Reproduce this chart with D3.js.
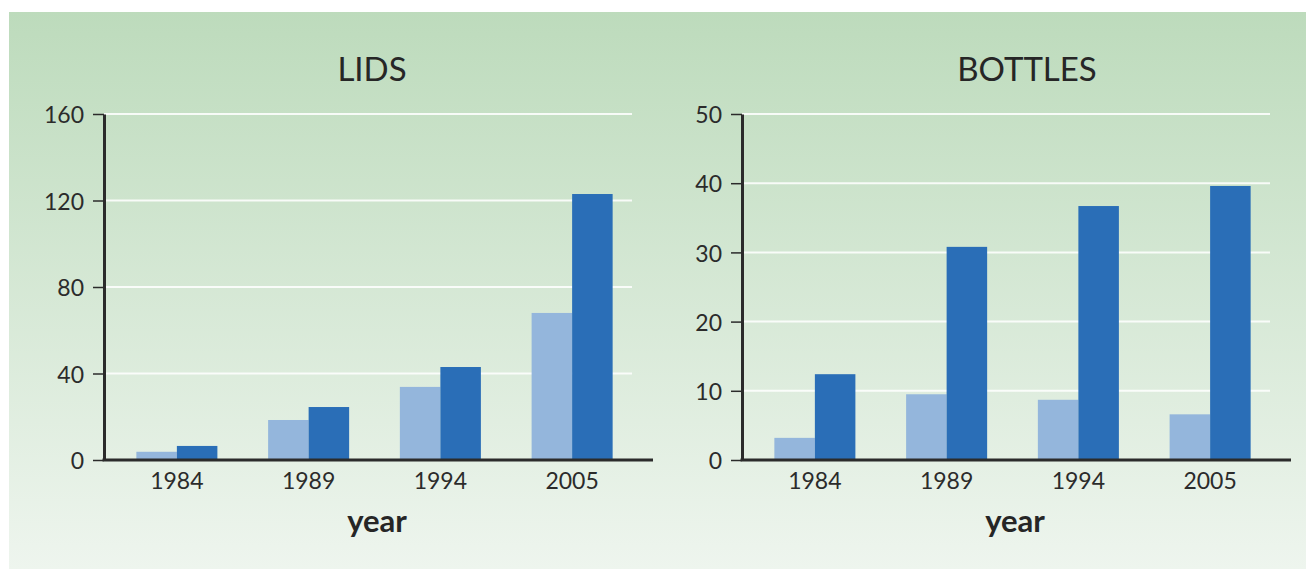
<!DOCTYPE html>
<html>
<head>
<meta charset="utf-8">
<script src="https://cdn.jsdelivr.net/npm/d3@7"></script>
<style>
  body { margin: 0; background: #fff; }
  text { font-family: Lato, "Noto Sans", sans-serif; fill: #262626; }
  .tick text { font-size: 23px; fill: #2b2b2b; }
  .title { font-size: 33px; }
  .xlabel { font-size: 31px; font-weight: bold; }
</style>
</head>
<body>
<svg id="chart"></svg>
<script>
const width = 1306;
const height = 569;

// values
const years = ["1984", "1989", "1994", "2005"];
const lidsLight = [3.8, 18.5, 33.8, 68];
const lidsDark = [6.5, 24.5, 43, 123];
const lidsTicks = [0, 40, 80, 120, 160];
const bottlesLight = [3.2, 9.5, 8.7, 6.6];
const bottlesDark = [12.4, 30.8, 36.7, 39.6];
const bottlesTicks = [0, 10, 20, 30, 40, 50];

const lightBlue = "#94b6dc";
const darkBlue = "#2a6eb7";

const svg = d3.select("#chart")
   .attr("width", width)
   .attr("height", height);

const defs = svg.append("defs");
const grad = defs.append("linearGradient")
   .attr("id", "bg")
   .attr("x1", 0).attr("y1", 0)
   .attr("x2", 0).attr("y2", 1);
grad.append("stop").attr("offset", "0%").attr("stop-color", "#bddbbc");
grad.append("stop").attr("offset", "100%").attr("stop-color", "#eef5ee");

svg.append("rect")
   .attr("x", 9)
   .attr("y", 12)
   .attr("width", width - 9)
   .attr("height", height - 12)
   .attr("fill", "url(#bg)");

function drawPanel(opt) {
   const g = svg.append("g");

   const y = d3.scaleLinear()
      .domain([0, d3.max(opt.ticks)])
      .range([460, 114]);

   const x = d3.scaleBand()
      .domain(years)
      .range([opt.left + 7, opt.left + 534])
      .paddingInner(0.385)
      .paddingOuter(0.1925);

   const sub = d3.scaleBand()
      .domain(["light", "dark"])
      .range([0, x.bandwidth()]);

   // grid lines
   g.selectAll("line.grid")
      .data(opt.ticks.filter(d => d > 0))
      .enter()
      .append("line")
      .attr("class", "grid")
      .attr("x1", opt.left)
      .attr("x2", opt.left + 528)
      .attr("y1", d => y(d))
      .attr("y2", d => y(d))
      .attr("stroke", "#fff")
      .attr("stroke-opacity", 0.85)
      .attr("stroke-width", 2);

   const rows = years.map((yr, i) => ({ year: yr, light: opt.light[i], dark: opt.dark[i] }));

   g.selectAll("rect.light")
      .data(rows)
      .enter()
      .append("rect")
      .attr("class", "light")
      .attr("x", d => x(d.year) + sub("light"))
      .attr("width", sub.bandwidth())
      .attr("y", d => y(d.light))
      .attr("height", d => y(0) - y(d.light))
      .style("fill", lightBlue);

   g.selectAll("rect.dark")
      .data(rows)
      .enter()
      .append("rect")
      .attr("class", "dark")
      .attr("x", d => x(d.year) + sub("dark"))
      .attr("width", sub.bandwidth())
      .attr("y", d => y(d.dark))
      .attr("height", d => y(0) - y(d.dark))
      .style("fill", darkBlue);

   // y axis
   const yAxis = d3.axisLeft(y)
      .tickValues(opt.ticks)
      .tickSize(11)
      .tickSizeOuter(0)
      .tickPadding(9);

   const ya = g.append("g")
      .attr("transform", `translate(${opt.left},0)`)
      .call(yAxis);
   ya.select(".domain").attr("stroke", "#2b2b2b").attr("stroke-width", 3);
   ya.selectAll(".tick line").attr("stroke", "#2b2b2b").attr("stroke-width", 1.5);
   ya.selectAll(".tick text").attr("dy", "0.38em");

   // x axis
   const xAxis = d3.axisBottom(x)
      .tickSize(0)
      .tickPadding(13);
   const xa = g.append("g")
      .attr("transform", `translate(0,${y(0)})`)
      .call(xAxis);
   xa.select(".domain").remove();

   g.append("line")
      .attr("x1", opt.left - 1.5)
      .attr("x2", opt.left + 549)
      .attr("y1", y(0))
      .attr("y2", y(0))
      .attr("stroke", "#2b2b2b")
      .attr("stroke-width", 3);

   g.append("text")
      .attr("class", "title")
      .attr("x", opt.titleX)
      .attr("y", 81)
      .style("text-anchor", "middle")
      .text(opt.title);

   g.append("text")
      .attr("class", "xlabel")
      .attr("x", opt.left + 273)
      .attr("y", 532)
      .style("text-anchor", "middle")
      .text("year");
}

drawPanel({ left: 104, title: "LIDS", titleX: 372, ticks: lidsTicks, light: lidsLight, dark: lidsDark });
drawPanel({ left: 742, title: "BOTTLES", titleX: 1027, ticks: bottlesTicks, light: bottlesLight, dark: bottlesDark });
</script>
</body>
</html>
